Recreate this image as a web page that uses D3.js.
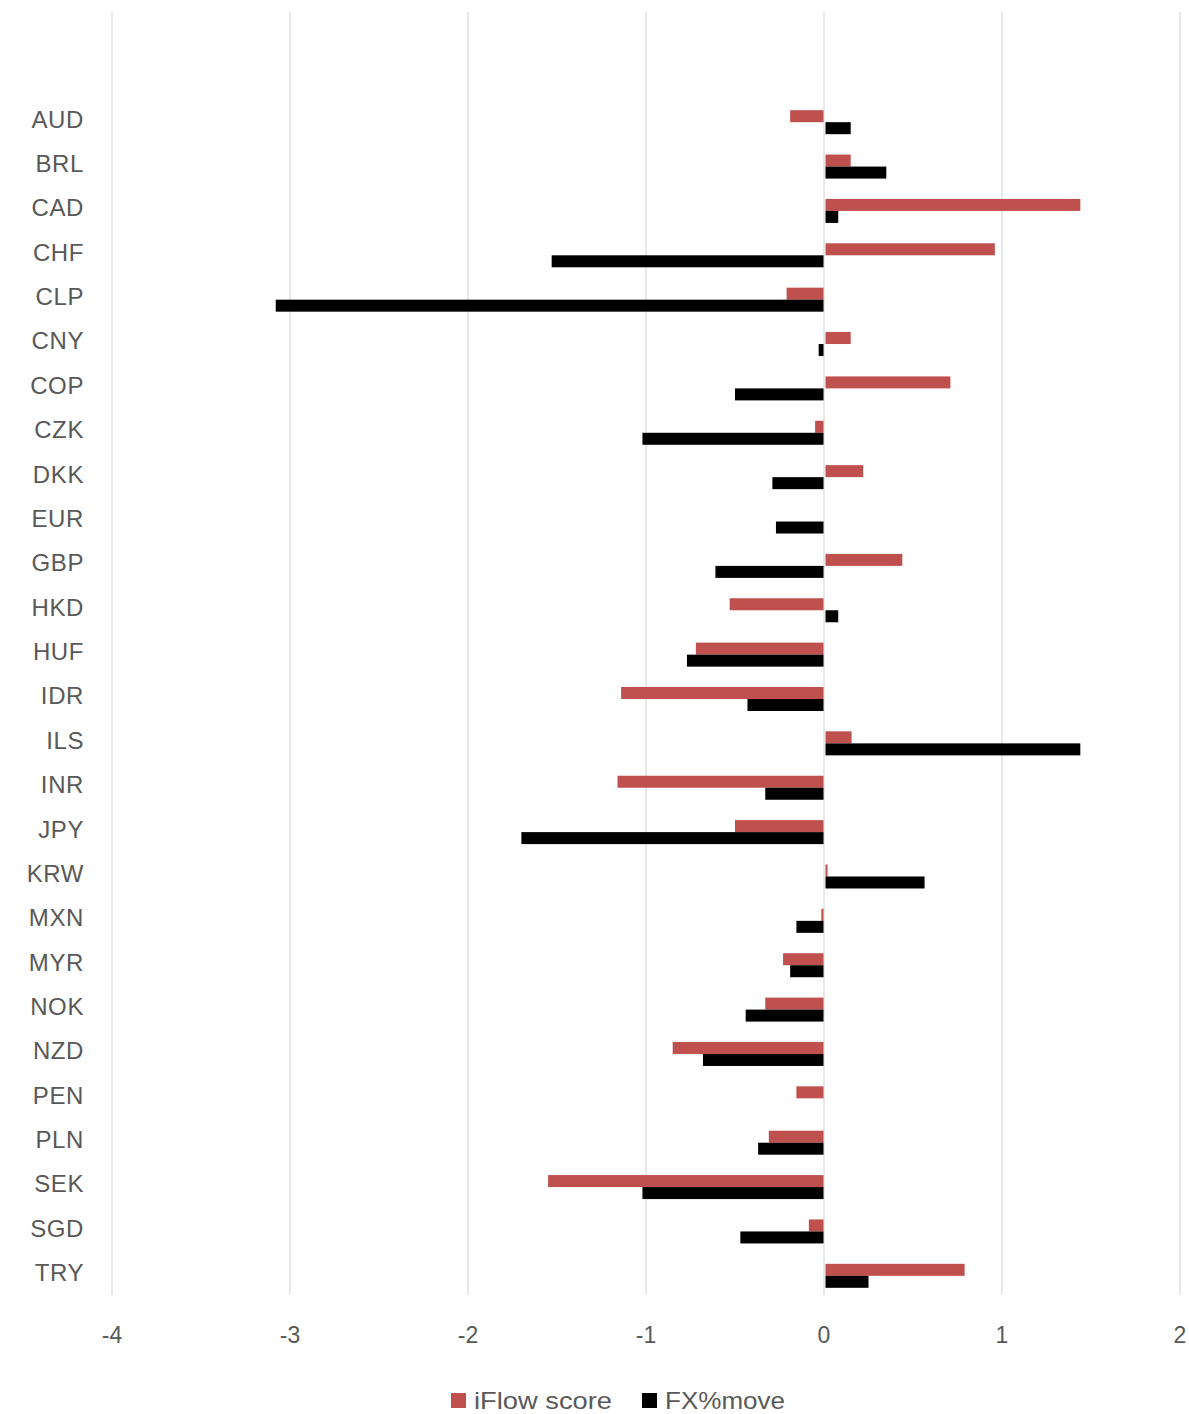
<!DOCTYPE html>
<html>
<head>
<meta charset="utf-8">
<script src="https://cdn.jsdelivr.net/npm/d3@7"></script>
<style>
  body { margin: 0; background: #fff; }
  svg text { font-family: "Liberation Sans", Arial, sans-serif; fill: #595959; }
</style>
</head>
<body>
<div id="chart"></div>
<script>
"use strict";

// currencies, top to bottom
const currencies = ["AUD", "BRL", "CAD", "CHF", "CLP", "CNY", "COP", "CZK", "DKK", "EUR",
    "GBP", "HKD", "HUF", "IDR", "ILS", "INR", "JPY", "KRW", "MXN", "MYR",
    "NOK", "NZD", "PEN", "PLN", "SEK", "SGD", "TRY"];

// values
const iflowScore = [-0.19, 0.15, 1.44, 0.96, -0.21, 0.15, 0.71, -0.05, 0.22, 0.0,
    0.44, -0.53, -0.72, -1.14, 0.155, -1.16, -0.50, 0.02, -0.015, -0.23,
    -0.33, -0.85, -0.155, -0.31, -1.55, -0.085, 0.79];
const fxMove = [0.15, 0.35, 0.08, -1.53, -3.08, -0.03, -0.50, -1.02, -0.29, -0.27,
    -0.61, 0.08, -0.77, -0.43, 1.44, -0.33, -1.70, 0.565, -0.155, -0.19,
    -0.44, -0.68, 0.0, -0.37, -1.02, -0.47, 0.25];

const xTicks = [-4, -3, -2, -1, 0, 1, 2];
const seriesNames = ["iFlow score", "FX%move"];
const seriesColors = ["#C0504D", "#000000"];

const width = 1189, height = 1414;

const svg = d3.select("#chart").append("svg")
    .attr("width", width)
    .attr("height", height);

const x = d3.scaleLinear().domain([-4, 2]).range([112, 1180]);

const y = d3.scaleBand().domain(currencies).range([100, 1298]).padding(0);

// inside each category the two bars sit together in the middle
const ySub = d3.scaleBand().domain(seriesNames)
    .range([y.bandwidth() / 2 - 12, y.bandwidth() / 2 + 12]);

// vertical gridlines
svg.append("g")
    .selectAll("line")
    .data(xTicks)
    .join("line")
    .attr("x1", d => x(d))
    .attr("x2", d => x(d))
    .attr("y1", 12)
    .attr("y2", 1295)
    .attr("stroke", "#d9d9d9")
    .attr("stroke-width", 1.2);

// x tick labels
svg.append("g")
    .selectAll("text")
    .data(xTicks)
    .join("text")
    .attr("x", d => x(d))
    .attr("y", 1335)
    .attr("dy", "0.35em")
    .attr("text-anchor", "middle")
    .style("font-size", "23px")
    .text(d => d);

// category labels
svg.append("g")
    .selectAll("text")
    .data(currencies)
    .join("text")
    .attr("x", 84)
    .attr("y", d => y(d) + y.bandwidth() / 2 - 3)
    .attr("dy", "0.35em")
    .attr("text-anchor", "end")
    .style("font-size", "24px")
    .style("letter-spacing", "0.6px")
    .text(d => d);

// bars
const rows = currencies.map((c, i) => ({ name: c, values: [iflowScore[i], fxMove[i]] }));

const groups = svg.append("g")
    .selectAll("g")
    .data(rows)
    .join("g")
    .attr("transform", d => `translate(0,${y(d.name)})`);

groups.selectAll("rect")
    .data(d => d.values.map((v, k) => ({ series: seriesNames[k], value: v, k })))
    .join("rect")
    .attr("x", d => d.value < 0 ? x(d.value) : x(0) + 1.5)
    .attr("width", d => Math.max(0, Math.abs(x(d.value) - x(0)) - (d.value < 0 ? 0.5 : 1.5)))
    .attr("y", d => ySub(d.series))
    .attr("height", ySub.bandwidth())
    .attr("fill", d => seriesColors[d.k]);

// legend
const legendX = [451, 642];
const legendTextLen = [138, 120];
const legend = svg.append("g")
    .selectAll("g")
    .data(seriesNames)
    .join("g")
    .attr("transform", (d, i) => `translate(${legendX[i]},1393)`);

legend.append("rect")
    .attr("width", 15)
    .attr("height", 15)
    .attr("fill", (d, i) => seriesColors[i]);

legend.append("text")
    .attr("x", 23)
    .attr("y", 8)
    .attr("dy", "0.35em")
    .attr("textLength", (d, i) => legendTextLen[i])
    .attr("lengthAdjust", "spacingAndGlyphs")
    .style("font-size", "24px")
    .text(d => d);
</script>
</body>
</html>
